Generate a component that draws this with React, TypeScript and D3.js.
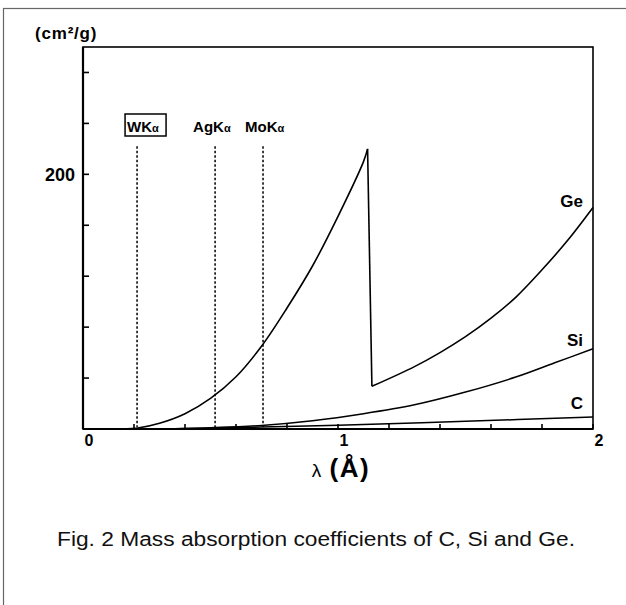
import React from "react";
import * as d3 from "d3";

const width = 626;
const height = 605;
const margin = { left: 83, right: 33, top: 47, bottom: 176 };

// wavelength (Å) and mass absorption coefficient (cm²/g)
const geLowLambda = [0.15, 0.22, 0.3, 0.4, 0.5, 0.6, 0.7, 0.8, 0.9, 1.0, 1.1, 1.116];
const geLowMu = [0, 1, 4.5, 12, 24, 41, 65, 95, 128, 167, 210, 220];
const geHighLambda = [1.133, 1.3, 1.4, 1.5, 1.6, 1.7, 1.8, 1.9, 2.0];
const geHighMu = [33.5, 49, 60, 72.5, 87, 104, 125, 148, 174];
const siLambda = [0.3, 0.5, 0.7, 0.9, 1.1, 1.3, 1.5, 1.7, 1.85, 2.0];
const siMu = [0, 1, 2.8, 6.5, 12, 19, 29, 41, 52, 63];
const cLambda = [0.3, 0.7, 1.0, 1.5, 2.0];
const cMu = [0, 1.5, 3, 6, 9.5];

// characteristic lines
const lineNames = ["WK", "AgK", "MoK"];
const lineLambda = [0.212, 0.518, 0.706];
const lineTopMu = 222;

const xTicks = [0, 0.2, 0.4, 0.6, 0.8, 1, 1.2, 1.4, 1.6, 1.8, 2];
const xLabels = [0, 1, 2];
const yTicks = [40, 80, 120, 160, 200, 240, 280];
const yLabels = [200];

const seriesNames = ["Ge", "Si", "C"];

const font = "'Liberation Sans', Arial, Helvetica, sans-serif";

const App = () => {
  const x = d3.scaleLinear().domain([0, 2]).range([margin.left, width - margin.right]);
  const y = d3.scaleLinear().domain([0, 300]).range([height - margin.bottom, margin.top]);

  const curve = d3
    .line<[number, number]>()
    .x((d) => x(d[0]))
    .y((d) => y(d[1]))
    .curve(d3.curveCatmullRom.alpha(0.5));

  const zip = (a: number[], b: number[]) => a.map((v, i) => [v, b[i]] as [number, number]);

  const geLow = zip(geLowLambda, geLowMu);
  const geHigh = zip(geHighLambda, geHighMu);
  const geEdge = d3.line()([
    [x(geLow[geLow.length - 1][0]), y(geLow[geLow.length - 1][1])],
    [x(geHigh[0][0]), y(geHigh[0][1])],
  ]);
  const si = zip(siLambda, siMu);
  const c = zip(cLambda, cMu);

  const x0 = x(0);
  const x2 = x(2);
  const yb = y(0);
  const yt = y(300);

  // series labels sit just left of the curve ends
  const labelMu = [geHighMu[geHighMu.length - 1], siMu[siMu.length - 1], cMu[cMu.length - 1]];
  const labelDy = [0, 3, 8];
  const lineLabelDx = [-10, -22, -18];

  return (
    <svg
      width={width}
      height={height}
      style={{ position: "absolute", left: 0, top: 0, background: "#fff" }}
      fontFamily={font}
    >
      <rect x={3.5} y={8.5} width={700} height={700} fill="none" stroke="#666" strokeWidth={1.2} />

      {/* frame */}
      <rect x={x0} y={yt} width={x2 - x0} height={yb - yt} fill="none" stroke="#000" strokeWidth={1.6} />
      <line x1={x0} x2={x0} y1={yt} y2={yb} stroke="#000" strokeWidth={2.2} />
      <line x1={x0} x2={x2} y1={yb} y2={yb} stroke="#000" strokeWidth={2.2} />

      {yTicks.map((t) => (
        <line key={"yt" + t} x1={x0} x2={x0 + 6} y1={y(t)} y2={y(t)} stroke="#000" strokeWidth={1.6} />
      ))}
      {xTicks.map((t) => (
        <line key={"xt" + t} x1={x(t)} x2={x(t)} y1={yb} y2={yb - 5} stroke="#000" strokeWidth={1.6} />
      ))}
      {yLabels.map((t) => (
        <text key={"yl" + t} x={x0 - 8} y={y(t) + 7} textAnchor="end" fontSize={18} fontWeight="bold">
          {t}
        </text>
      ))}
      {xLabels.map((t) => (
        <text key={"xl" + t} x={x(t) + 6} y={yb + 17} textAnchor="middle" fontSize={16} fontWeight="bold">
          {t}
        </text>
      ))}
      <text x={35} y={39} fontSize={17} fontWeight="bold" letterSpacing={0.8}>
        (cm²/g)
      </text>
      <text x={341} y={yb + 48} textAnchor="middle" fontWeight="bold" letterSpacing={1.5}>
        <tspan fontSize={19} fontWeight="normal">λ </tspan>
        <tspan fontSize={26}>(Å)</tspan>
      </text>

      {/* characteristic lines */}
      {lineLambda.map((l, i) => (
        <g key={lineNames[i]}>
          <line
            x1={x(l)}
            x2={x(l)}
            y1={y(lineTopMu)}
            y2={yb - 2}
            stroke="#000"
            strokeWidth={1.5}
            strokeDasharray="2.5,2"
          />
          <text x={x(l) + lineLabelDx[i]} y={132} fontSize={15} fontWeight="bold">
            {lineNames[i]}
            <tspan fontSize={11}>α</tspan>
          </text>
          {i === 0 && (
            <rect x={x(l) - 12} y={114} width={41} height={22} fill="none" stroke="#000" strokeWidth={1.5} />
          )}
        </g>
      ))}

      {/* curves */}
      <path d={curve(geLow) ?? ""} fill="none" stroke="#000" strokeWidth={1.6} />
      <path d={geEdge ?? ""} fill="none" stroke="#000" strokeWidth={1.6} />
      <path d={curve(geHigh) ?? ""} fill="none" stroke="#000" strokeWidth={1.6} />
      <path d={curve(si) ?? ""} fill="none" stroke="#000" strokeWidth={1.5} />
      <path d={curve(c) ?? ""} fill="none" stroke="#000" strokeWidth={1.5} />

      {seriesNames.map((n, i) => (
        <text
          key={n}
          x={x2 - 10}
          y={y(labelMu[i]) - labelDy[i]}
          textAnchor="end"
          fontSize={17}
          fontWeight="bold"
        >
          {n}
        </text>
      ))}

      <text x={57} y={546} fontSize={20} fill="#111" textLength={518} lengthAdjust="spacingAndGlyphs">
        Fig. 2 Mass absorption coefficients of C, Si and Ge.
      </text>
    </svg>
  );
};

export default App;
